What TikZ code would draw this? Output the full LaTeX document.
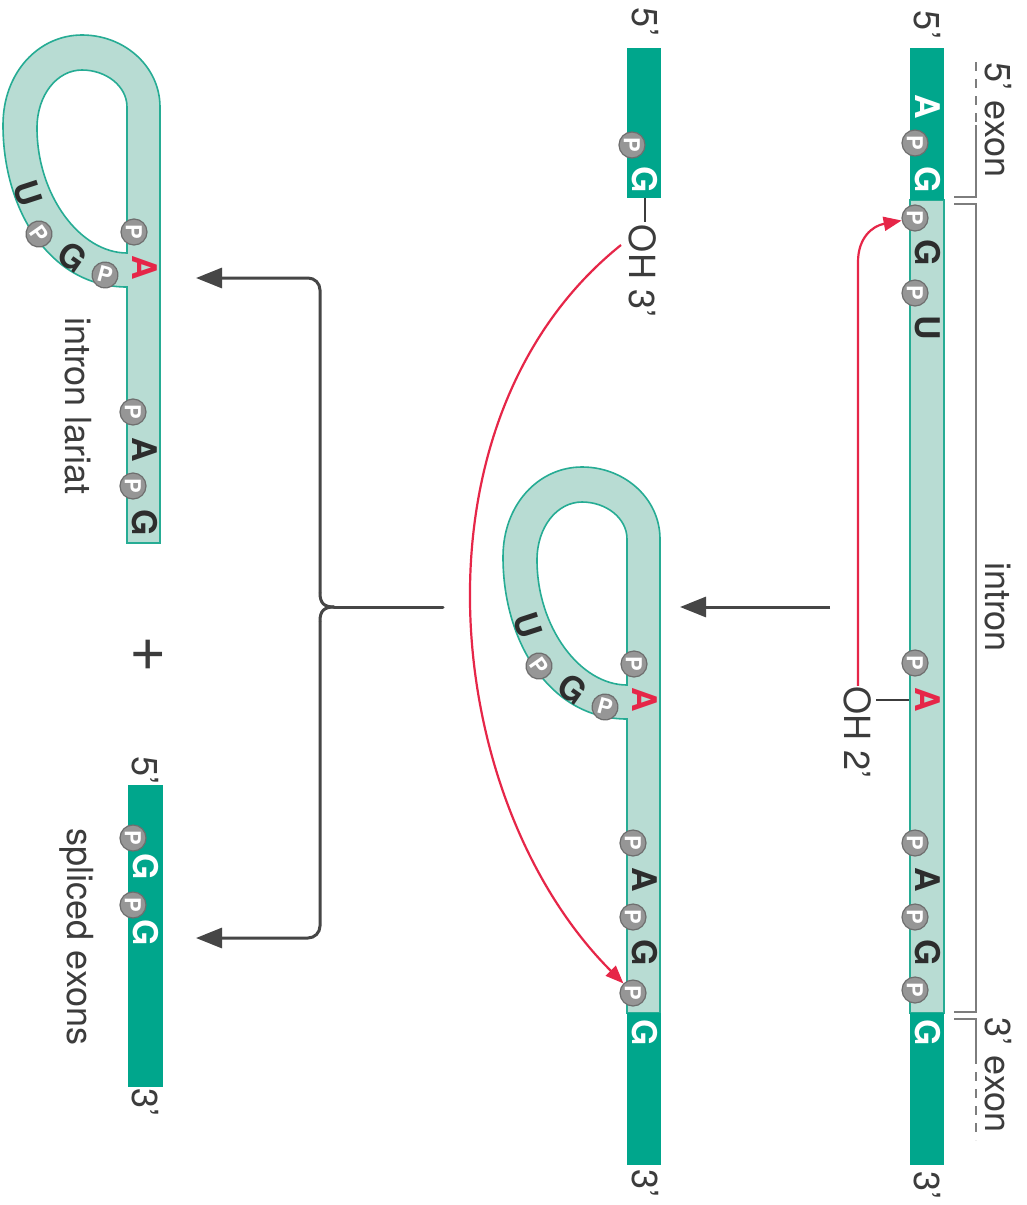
\documentclass[tikz,border=0pt]{standalone}
\usepackage{fontspec}
\setmainfont{TeX Gyre Heros}
\usetikzlibrary{arrows.meta}
\definecolor{darkc}{RGB}{0,166,140}
\definecolor{lightc}{RGB}{184,220,211}
\definecolor{borderc}{RGB}{38,172,148}
\definecolor{redc}{RGB}{230,38,72}
\definecolor{labc}{RGB}{60,60,60}
\definecolor{ntc}{RGB}{45,45,45}
\definecolor{arrc}{RGB}{70,70,70}
\definecolor{brc}{RGB}{125,125,125}
\definecolor{pfill}{RGB}{150,150,150}
\definecolor{pdraw}{RGB}{110,110,110}

\newcommand{\lariatshape}[2]{%
  \fill[lightc, even odd rule]
    (160,#1) -- (160,107) .. controls (160,67) and (125,35) .. (82,35)
    .. controls (39,35) and (3,72) .. (3,125)
    .. controls (3,210) and (50,287) .. (127,287) -- (127,#1) -- cycle
    (127,253) -- (127,107) .. controls (127,86) and (106,70) .. (82,70)
    .. controls (57,70) and (37,95) .. (37,128)
    .. controls (37,195) and (80,253) .. (127,253) -- cycle;
  \draw[bord]
    (160,#1) -- (160,107) .. controls (160,67) and (125,35) .. (82,35)
    .. controls (39,35) and (3,72) .. (3,125)
    .. controls (3,210) and (50,287) .. (127,287) -- (127,#1) -- cycle;
  \draw[bord]
    (127,253) -- (127,107) .. controls (127,86) and (106,70) .. (82,70)
    .. controls (57,70) and (37,95) .. (37,128)
    .. controls (37,195) and (80,253) .. (127,253) -- cycle;
  \node[pc, rotate=-90] (#2a) at (134,232) {P};
  \node[ntr, rotate=-90] (#2b) at (145,268) {A};
  \node[pc, rotate=-15] (#2c) at (105,275) {P};
  \node[ntk, rotate=-35] (#2d) at (72,257) {G};
  \node[pc, rotate=-55] (#2e) at (39,234) {P};
  \node[ntk, rotate=-72] (#2f) at (28,193) {U};
}

\begin{document}
\begin{tikzpicture}[x=1pt,y=-1pt,
  lab/.style={font=\fontsize{36}{40}\selectfont, text=labc, rotate=-90, inner sep=0pt},
  nt/.style={font=\bfseries\fontsize{34}{36}\selectfont, inner sep=0pt},
  ntw/.style={nt, text=white},
  ntk/.style={nt, text=ntc},
  ntr/.style={nt, text=redc},
  rv/.style={rotate=-90},
  pc/.style={circle, minimum size=26pt, inner sep=0pt, fill=pfill, draw=pdraw,
    line width=1.2pt, text=white, font=\bfseries\fontsize{22}{22}\selectfont},
  bord/.style={draw=borderc, line width=1.6pt},
  brl/.style={draw=brc, line width=1.6pt},
  blk/.style={draw=arrc, line width=3pt, line cap=round},
  blkarr/.style={draw=arrc, line width=3pt, -{Triangle[length=26pt,width=20pt]}},
  redl/.style={draw=redc, line width=2.2pt, -{Triangle[length=18pt,width=14pt]}},
  tickl/.style={draw=labc, line width=1.5pt}
]
\useasboundingbox (0,0) rectangle (1026,1205);
\fill[white] (0,0) rectangle (1026,1205);

% ---------------- right strand (pre-mRNA) ----------------
\coordinate (t1) at (876,700);
\coordinate (t2) at (912,700);
\draw[tickl] (t1) -- (t2);
\fill[lightc] (910,200) rectangle (944,1013);
\draw[bord] (910,200) rectangle (944,1013);
\fill[darkc] (910,48) rectangle (944,200);
\fill[darkc] (910,1013) rectangle (944,1165);

\node[ntw, rv] (RA1) at (928,107) {A};
\node[pc, rotate=-90] (Rp0) at (915,143) {P};
\node[ntw, rv] (RG1) at (928,180) {G};
\node[pc, rotate=-90] (Rp1) at (915,218) {P};
\node[ntk, rv] (RG2) at (928,253) {G};
\node[pc, rotate=-90] (Rp2) at (915,293) {P};
\node[ntk, rv] (RU) at (928,328) {U};
\node[pc, rotate=-90] (Rp3) at (915,663) {P};
\node[ntr, rv] (RAb) at (928,700) {A};
\node[pc, rotate=-90] (Rp4) at (915,843) {P};
\node[ntk, rv] (RA2) at (928,880) {A};
\node[pc, rotate=-90] (Rp5) at (915,917) {P};
\node[ntk, rv] (RG3) at (928,953) {G};
\node[pc, rotate=-90] (Rp6) at (915,990) {P};
\node[ntw, rv] (RG4) at (928,1033) {G};

\node[lab] (R5) at (927,25) {5’};
\node[lab] (R3) at (927,1185) {3’};
\node[lab] (ex5) at (998,120) {5’ exon};
\node[lab] (intr) at (998,607) {intron};
\node[lab] (ex3) at (998,1075) {3’ exon};
\node[lab] (oh2) at (858,732) {OH 2’};

% brackets
\coordinate (b5a) at (976,62);
\coordinate (b5b) at (976,125);
\coordinate (b5c) at (976,197);
\coordinate (b5d) at (954,197);
\draw[brl, dash pattern=on 9pt off 8pt] (b5a) -- (b5b);
\draw[brl] (b5b) -- (b5c) -- (b5d);
\coordinate (bi1) at (954,204);
\coordinate (bi2) at (976,204);
\coordinate (bi3) at (976,1012);
\coordinate (bi4) at (954,1012);
\draw[brl] (bi1) -- (bi2) -- (bi3) -- (bi4);
\coordinate (b3a) at (954,1019);
\coordinate (b3b) at (976,1019);
\coordinate (b3c) at (976,1055);
\coordinate (b3d) at (976,1140);
\draw[brl] (b3a) -- (b3b) -- (b3c);
\draw[brl, dash pattern=on 9pt off 8pt] (b3c) -- (b3d);

% red arrow 1
\coordinate (r1k) at (858,262);
\draw[redl] (oh2.west) -- (r1k) .. controls (858,238) and (872,226) .. (Rp1);

% black arrow right -> middle
\coordinate (ra1) at (830,607);
\coordinate (ra2) at (680,607);
\draw[blkarr] (ra1) -- (ra2);

% ---------------- middle ----------------
\coordinate (m1) at (645,198);
\coordinate (m2) at (645,222);
\draw[tickl] (m1) -- (m2);
\fill[darkc] (627,48) rectangle (661,198);
\node[pc, rotate=-90] (Mp0) at (632,145) {P};
\node[ntw, rv] (MG0) at (645,180) {G};
\node[lab] (M5) at (645,22) {5’};
\node[lab] (oh3) at (643,271) {OH 3’};

\begin{scope}[shift={(500,432)}]
  \lariatshape{581}{Ml}
\end{scope}
\fill[darkc] (627,1013) rectangle (661,1165);
\node[pc, rotate=-90] (Mp1) at (633,843) {P};
\node[ntk, rv] (MA2) at (645,880) {A};
\node[pc, rotate=-90] (Mp2) at (633,917) {P};
\node[ntk, rv] (MG3) at (645,953) {G};
\node[pc, rotate=-90] (Mp5) at (633,993) {P};
\node[ntw, rv] (MG4) at (645,1033) {G};
\node[lab] (M3) at (645,1183) {3’};

% red arrow 2
\coordinate (oh3s) at (621,245);
\draw[redl] (oh3s) .. controls (403,420) and (440,800) .. (Mp5);

% brace arrows
\coordinate (be) at (443,607);
\coordinate (bm) at (334,607);
\coordinate (bu) at (320,593);
\coordinate (bd) at (320,621);
\coordinate (bt) at (196,278);
\coordinate (bb) at (196,938);
\draw[blk] (be) -- (bm);
\draw[blk] (bm) .. controls (324,607) and (320,603) .. (bu);
\draw[blk] (bm) .. controls (324,607) and (320,611) .. (bd);
\draw[blkarr, rounded corners=12pt] (bu) -- (320,278) -- (bt);
\draw[blkarr, rounded corners=12pt] (bd) -- (320,938) -- (bb);

% ---------------- left ----------------
\lariatshape{543}{L}
\node[pc, rotate=-90] (Lp1) at (133,412) {P};
\node[ntk, rv] (LA2) at (145,450) {A};
\node[pc, rotate=-90] (Lp2) at (133,486) {P};
\node[ntk, rv] (LG3) at (145,523) {G};
\node[lab] (lar) at (78,406) {intron lariat};

\node[font=\fontsize{64}{64}\selectfont, text=labc, inner sep=0pt] (plus) at (148,655) {+};

\fill[darkc] (128,785) rectangle (163,1087);
\node[pc, rotate=-90] (Sp1) at (133,838) {P};
\node[ntw, rv] (SG1) at (146,867) {G};
\node[pc, rotate=-90] (Sp2) at (133,905) {P};
\node[ntw, rv] (SG2) at (146,933) {G};
\node[lab] (S5) at (145,770) {5’};
\node[lab] (S3) at (145,1102) {3’};
\node[lab] (spl) at (77,937) {spliced exons};
\end{tikzpicture}
\end{document}
